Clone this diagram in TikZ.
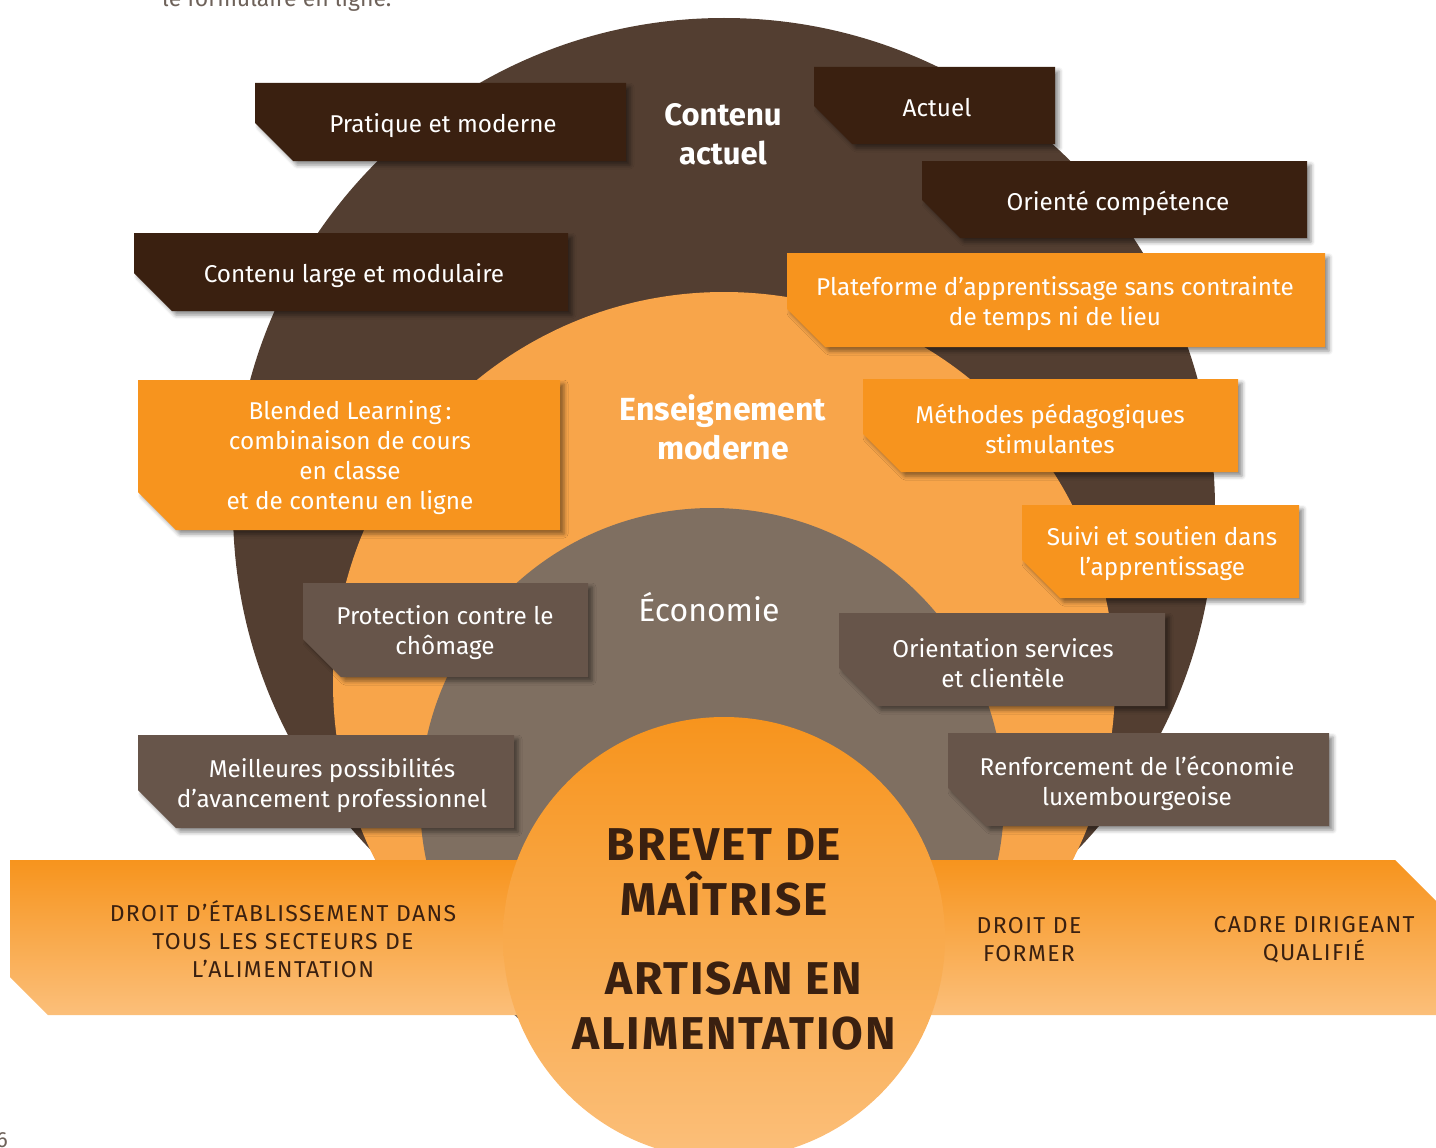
\documentclass[tikz,border=0pt]{standalone}
\usepackage{fontspec}
\setmainfont{Fira Sans}
\usetikzlibrary{shadows.blur}
\definecolor{cdark}{HTML}{533E31}
\definecolor{corange}{HTML}{F8A54A}
\definecolor{cgrey}{HTML}{7F6F61}
\definecolor{bdark}{HTML}{3A2010}
\definecolor{borange}{HTML}{F7941E}
\definecolor{bgrey}{HTML}{67554A}
\definecolor{tdark}{HTML}{3A2010}
\definecolor{gtop}{HTML}{F7941D}
\definecolor{gbot}{HTML}{FBBF7A}
\definecolor{pagegrey}{HTML}{6E625A}
\tikzset{
 shad/.style={blur shadow={shadow xshift=4pt, shadow yshift=-4pt, shadow blur radius=4pt, shadow opacity=45}},
 boxtext/.style={text=white, align=center, font=\fontsize{24.3}{30}\selectfont, inner sep=0pt},
 ringlabel/.style={text=white, align=center, inner sep=0pt},
 bandtext/.style={text=tdark, align=center, font=\fontsize{23}{28}\selectfont\addfontfeature{LetterSpace=6}, inner sep=0pt},
 titletext/.style={text=tdark, align=center, font=\fontsize{46}{55}\selectfont\bfseries\addfontfeature{LetterSpace=4}, inner sep=0pt},
}
\newcommand\chbox[5]{\fill[#1,shad] (#2,#3) -- (#4,#3) -- (#4,#5) -- ({#2+38},#5) -- (#2,{#5-38}) -- cycle;}
\begin{document}
\begin{tikzpicture}[x=1pt,y=-1pt]
\useasboundingbox (0,0) rectangle (1436,1148);
\clip (0,0) rectangle (1436,1148);
\node[anchor=base west, text=pagegrey, font=\fontsize{23}{27}\selectfont, inner sep=0pt] (pagetext) at (162,7) {le formulaire en ligne.};
\node[anchor=base east, text=pagegrey, font=\fontsize{22}{26}\selectfont, inner sep=0pt] (pagenum) at (8,1147) {6};
% rings
\fill[cdark] (724,509) circle[radius=491pt];
\fill[corange] (724,683) circle[radius=391pt];
\fill[cgrey] (712,800) circle[radius=292pt];
% boxes
\chbox{bdark}{255}{83}{626}{161}
\node[boxtext] (pratique) at (443,126) {Pratique et moderne};
\chbox{bdark}{134}{233}{568}{311}
\node[boxtext] (contenularge) at (354,276) {Contenu large et modulaire};
\chbox{bdark}{814}{67}{1055}{144}
\node[boxtext] (actuel) at (937,108) {Actuel};
\chbox{bdark}{922}{161}{1307}{238}
\node[boxtext] (oriente) at (1118,203) {Orienté compétence};
\chbox{borange}{787}{253}{1325}{347}
\node[boxtext] (plateforme) at (1055,304) {Plateforme d’apprentissage sans contrainte\\de temps ni de lieu};
\chbox{borange}{138}{380}{560}{530}
\node[boxtext] (blended) at (350,458) {Blended Learning\,:\\combinaison de cours\\en classe\\et de contenu en ligne};
\chbox{borange}{863}{379}{1238}{472}
\node[boxtext] (methodes) at (1050,429) {Méthodes pédagogiques\\stimulantes};
\chbox{borange}{1022}{505}{1299}{598}
\node[boxtext] (suivi) at (1162,554) {Suivi et soutien dans\\l’apprentissage};
\chbox{bgrey}{303}{583}{588}{677}
\node[boxtext] (protection) at (445,633) {Protection contre le\\chômage};
\chbox{bgrey}{839}{613}{1165}{706}
\node[boxtext] (orientation) at (1003,663) {Orientation services\\et clientèle};
\chbox{bgrey}{138}{735}{514}{828}
\node[boxtext] (meilleures) at (332,785) {Meilleures possibilités\\d’avancement professionnel};
\chbox{bgrey}{948}{733}{1329}{826}
\node[boxtext] (renforcement) at (1137,783) {Renforcement de l’économie\\luxembourgeoise};
% ring labels
\node[ringlabel, font=\fontsize{31}{39}\selectfont\bfseries] (contenu) at (723,134) {Contenu\\actuel};
\node[ringlabel, font=\fontsize{32}{39}\selectfont\bfseries] (enseign) at (723,427) {Enseignement\\moderne};
\node[ringlabel, font=\fontsize{32}{39}\selectfont] (eco) at (709,607) {Économie};
% band
\shade[top color=gtop, bottom color=gbot] (10,860) -- (1395,860) -- (1470,935) -- (1470,1015) -- (48,1015) -- (10,977) -- cycle;
\shade[top color=gtop, bottom color=gbot] (724,938) circle[radius=221pt];
\node[bandtext] (droitetab) at (283,939) {DROIT D’ÉTABLISSEMENT DANS\\TOUS LES SECTEURS DE\\L’ALIMENTATION};
\node[bandtext] (droitformer) at (1029,940) {DROIT DE\\FORMER};
\node[bandtext] (cadre) at (1314,940) {CADRE DIRIGEANT\\QUALIFIÉ};
\node[titletext] (brevet) at (724,872) {BREVET DE\\MAÎTRISE};
\node[titletext] (artisan) at (734,1006) {ARTISAN EN\\ALIMENTATION};
\end{tikzpicture}
\end{document}
